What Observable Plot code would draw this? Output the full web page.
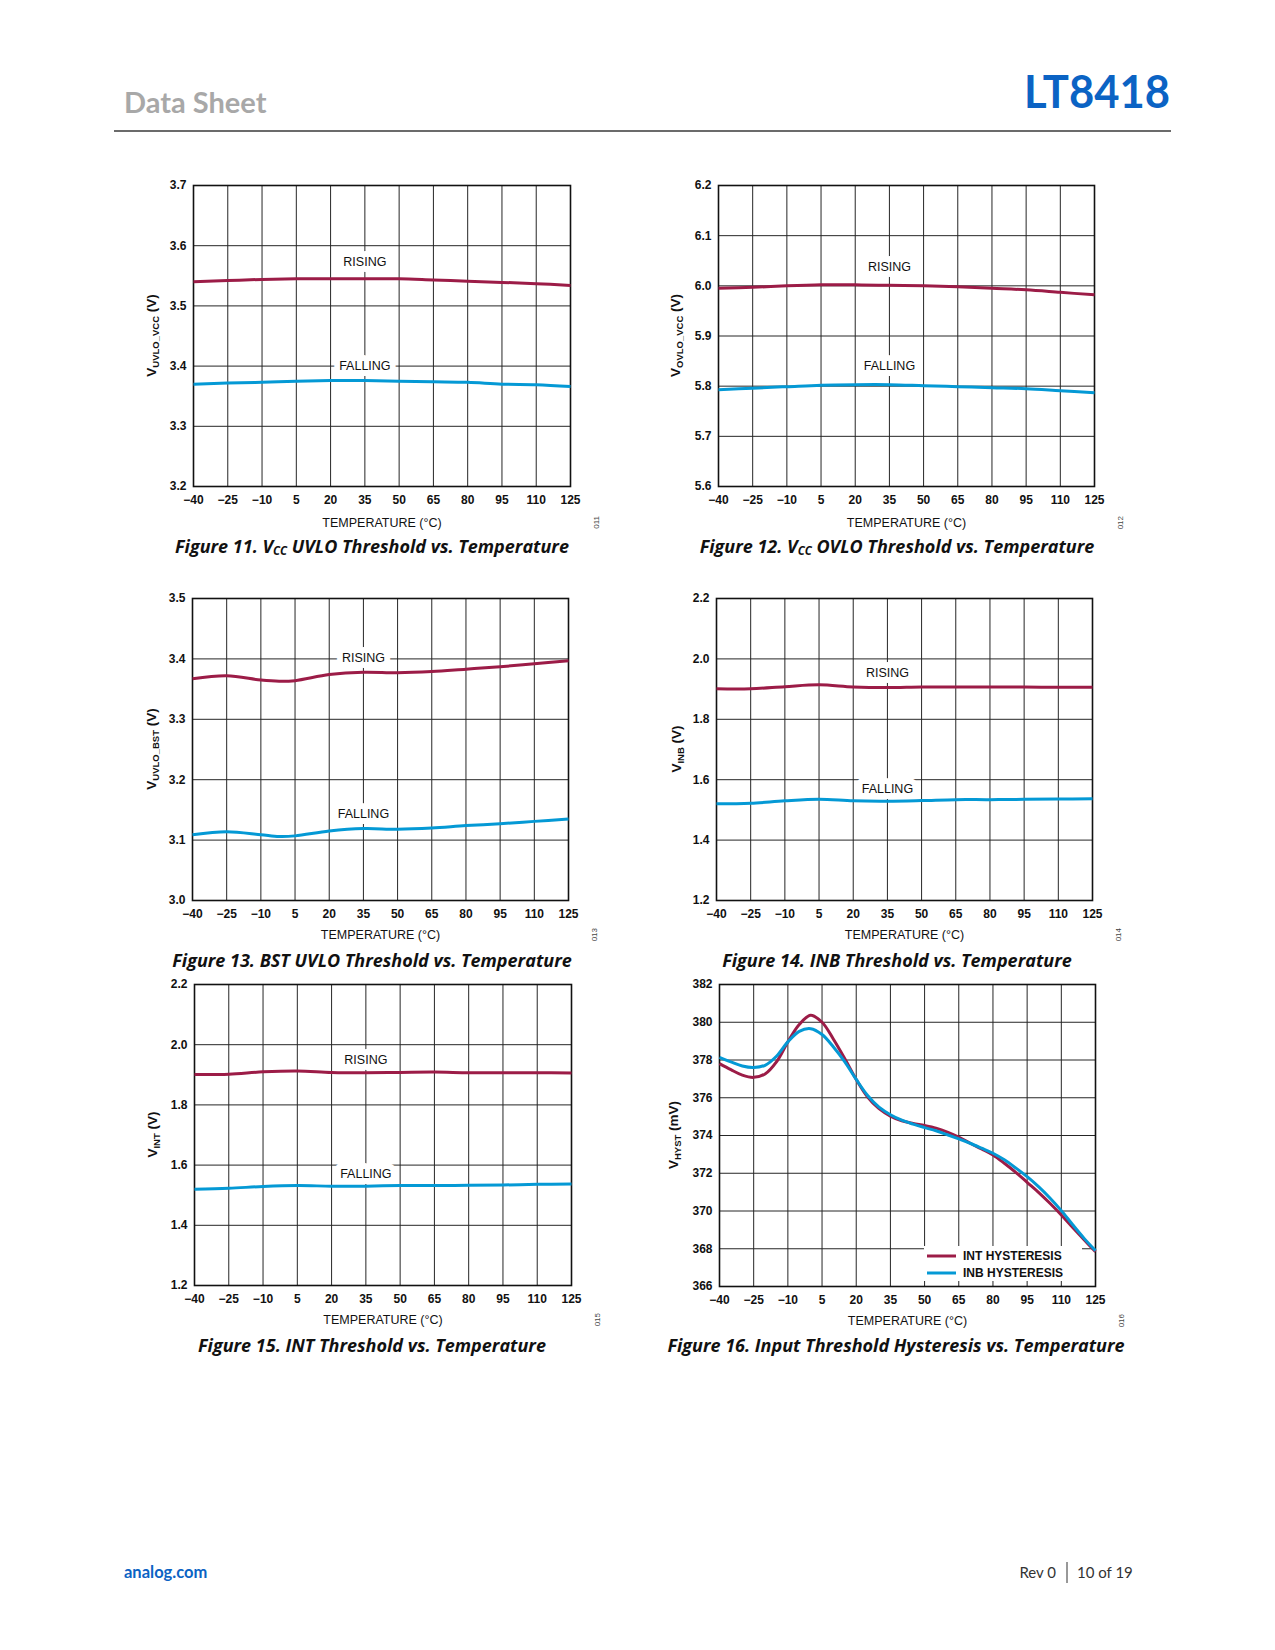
<!DOCTYPE html>
<html><head><meta charset="utf-8">
<script src="https://cdn.jsdelivr.net/npm/d3@7"></script>
<script src="https://cdn.jsdelivr.net/npm/@observablehq/plot@0.6"></script>
<style>
html,body{margin:0;padding:0;background:#fff;}
#page{position:relative;width:1275px;height:1650px;overflow:hidden;background:#fff;}
</style></head><body><div id="page"></div>
<script>
// ---------------- data ----------------
const temps = [-40, -25, -10, 5, 20, 35, 50, 65, 80, 95, 110, 125];
const seriesNames = ["RISING", "FALLING"];
const seriesColors = ["#9c1c47", "#0499d5"];

const fig11Rising  = [3.540, 3.542, 3.544, 3.545, 3.545, 3.545, 3.545, 3.543, 3.541, 3.539, 3.537, 3.534];
const fig11Falling = [3.370, 3.372, 3.373, 3.375, 3.376, 3.376, 3.375, 3.374, 3.373, 3.370, 3.369, 3.366];
const fig11Ticks   = [3.2, 3.3, 3.4, 3.5, 3.6, 3.7];
const fig11LabelY  = [3.573, 3.400];

const fig12Rising  = [5.995, 5.997, 6.000, 6.002, 6.002, 6.001, 6.000, 5.998, 5.995, 5.992, 5.987, 5.982];
const fig12Falling = [5.793, 5.796, 5.799, 5.802, 5.803, 5.803, 5.801, 5.799, 5.797, 5.795, 5.791, 5.787];
const fig12Ticks   = [5.6, 5.7, 5.8, 5.9, 6.0, 6.1, 6.2];
const fig12LabelY  = [6.037, 5.840];

const fig13Temps   = [-40, -25, -10, -2, 5, 20, 35, 50, 65, 80, 95, 110, 125];
const fig13Rising  = [3.367, 3.372, 3.365, 3.363, 3.364, 3.374, 3.378, 3.377, 3.379, 3.383, 3.387, 3.392, 3.397];
const fig13Falling = [3.109, 3.114, 3.109, 3.106, 3.107, 3.115, 3.119, 3.118, 3.120, 3.124, 3.127, 3.131, 3.135];
const fig13Ticks   = [3.0, 3.1, 3.2, 3.3, 3.4, 3.5];
const fig13LabelY  = [3.402, 3.143];

const fig14Rising  = [1.901, 1.901, 1.908, 1.914, 1.907, 1.905, 1.907, 1.907, 1.907, 1.907, 1.906, 1.906];
const fig14Falling = [1.520, 1.522, 1.530, 1.535, 1.530, 1.529, 1.531, 1.534, 1.534, 1.535, 1.536, 1.537];
const fig14Ticks   = [1.2, 1.4, 1.6, 1.8, 2.0, 2.2];
const fig14LabelY  = [1.952, 1.570];

const fig15Rising  = [1.901, 1.902, 1.910, 1.913, 1.908, 1.907, 1.908, 1.909, 1.907, 1.907, 1.907, 1.906];
const fig15Falling = [1.520, 1.523, 1.529, 1.532, 1.530, 1.530, 1.532, 1.532, 1.533, 1.534, 1.536, 1.537];
const fig15Ticks   = [1.2, 1.4, 1.6, 1.8, 2.0, 2.2];
const fig15LabelY  = [1.950, 1.570];

const fig16Names = ["INT HYSTERESIS", "INB HYSTERESIS"];
const fig16Temps = [-40, -35, -30, -25, -20, -15, -10, -5, 0, 5, 10, 15, 20, 25, 30, 35, 40, 45, 50, 55, 60, 65, 70, 75, 80, 85, 90, 95, 100, 105, 110, 115, 120, 125];
const fig16Int = [377.81, 377.49, 377.20, 377.08, 377.26, 377.90, 378.96, 379.88, 380.37, 380.00, 379.10, 378.07, 376.97, 376.04, 375.42, 375.03, 374.78, 374.64, 374.53, 374.39, 374.18, 373.91, 373.59, 373.29, 372.97, 372.53, 372.05, 371.52, 370.99, 370.41, 369.79, 369.13, 368.48, 367.84];
const fig16Inb = [378.14, 377.90, 377.68, 377.60, 377.72, 378.20, 378.96, 379.52, 379.66, 379.35, 378.69, 377.90, 376.97, 376.12, 375.50, 375.10, 374.81, 374.60, 374.42, 374.25, 374.04, 373.82, 373.59, 373.33, 373.06, 372.71, 372.28, 371.82, 371.29, 370.69, 370.02, 369.27, 368.55, 367.90];
const fig16Ticks = [366, 368, 370, 372, 374, 376, 378, 380, 382];

const labelTemp = 35;
const xTitle = "TEMPERATURE (°C)";

// ---------------- page furniture ----------------
const page = d3.select("#page");
const psvg = page.append("svg").attr("width", 1275).attr("height", 1650)
  .style("position", "absolute").style("left", "0px").style("top", "0px");

psvg.append("text").attr("x", 124).attr("y", 113)
  .attr("font-family", "Lato, sans-serif").attr("font-weight", 700).attr("font-size", 29)
  .attr("fill", "#a8a8a8").text("Data Sheet");
psvg.append("text").attr("x", 1024).attr("y", 108)
  .attr("font-family", "Lato, sans-serif").attr("font-weight", 700).attr("font-size", 46)
  .attr("textLength", 146).attr("lengthAdjust", "spacingAndGlyphs")
  .attr("fill", "#0b63c4").text("LT8418");
psvg.append("line").attr("x1", 114).attr("x2", 1171).attr("y1", 131).attr("y2", 131)
  .attr("stroke", "#3a3a3a").attr("stroke-width", 1.5);

psvg.append("text").attr("x", 124).attr("y", 1578)
  .attr("font-family", "Lato, sans-serif").attr("font-weight", 700).attr("font-size", 16.5)
  .attr("fill", "#0b63c4").text("analog.com");
psvg.append("text").attr("x", 1056).attr("y", 1578).attr("text-anchor", "end")
  .attr("font-family", "Lato, sans-serif").attr("font-size", 15).attr("fill", "#333").text("Rev 0");
psvg.append("line").attr("x1", 1067).attr("x2", 1067).attr("y1", 1562).attr("y2", 1583)
  .attr("stroke", "#333").attr("stroke-width", 1);
psvg.append("text").attr("x", 1077).attr("y", 1578)
  .attr("font-family", "Lato, sans-serif").attr("font-size", 15).attr("fill", "#333").text("10 of 19");

function caption(cx, by, parts) {
  const t = psvg.append("text").attr("x", cx).attr("y", by).attr("text-anchor", "middle")
    .attr("font-family", "'Open Sans', sans-serif").attr("font-weight", 700).attr("font-style", "italic")
    .attr("font-size", 18).attr("fill", "#111");
  t.append("tspan").text(parts[0]);
  if (parts.length > 1) {
    t.append("tspan").attr("font-size", 11.5).attr("dy", 2).text(parts[1]);
    t.append("tspan").attr("dy", -2).text(parts[2]);
  }
}
caption(372, 553, ["Figure 11. V", "CC", " UVLO Threshold vs. Temperature"]);
caption(897, 553, ["Figure 12. V", "CC", " OVLO Threshold vs. Temperature"]);
caption(372, 967, ["Figure 13. BST UVLO Threshold vs. Temperature"]);
caption(897, 967, ["Figure 14. INB Threshold vs. Temperature"]);
caption(372, 1352, ["Figure 15. INT Threshold vs. Temperature"]);
caption(896, 1352, ["Figure 16. Input Threshold Hysteresis vs. Temperature"]);

// ---------------- charts ----------------
function drawChart(opts) {
  const {frame, series, yTicks, yFmt, labels, yLabel, yLabelOff, figNo, names, colors, titleDy} = opts;
  const ML = 80, MT = 20, MR = 45, MB = 50;
  const width = frame[1] - frame[0] + ML + MR;
  const height = frame[3] - frame[2] + MT + MB;
  const rows = series.flatMap(s => s.xs.map((t, i) => ({t, v: s.values[i], name: s.name})));
  const marks = [
    Plot.ruleX(temps, {stroke: "#262626", strokeWidth: 1}),
    Plot.ruleY(yTicks, {stroke: "#262626", strokeWidth: 1}),
    Plot.frame({stroke: "#111", strokeWidth: 1.6}),
    Plot.line(rows, {x: "t", y: "v", z: "name", stroke: "name", strokeWidth: 3,
      curve: "catmull-rom", strokeLinecap: "butt"}),
    Plot.text([xTitle], {text: d => d, frameAnchor: "bottom", dy: titleDy,
      fontSize: 12.5, fontWeight: "normal", fill: "#111"}),
    Plot.text([figNo], {text: d => d, frameAnchor: "bottom-right", dx: 28, dy: titleDy - 11, rotate: -90,
      fontSize: 8, fontWeight: "normal", fill: "#444"})
  ];
  if (labels) {
    marks.push(Plot.text(labels, {x: "t", y: "v", text: "label", fontSize: 12.5, fontWeight: "normal",
      fill: "#111", stroke: "white", strokeWidth: 12, paintOrder: "stroke"}));
  }
  const chart = Plot.plot({
    width, height,
    marginLeft: ML, marginTop: MT, marginRight: MR, marginBottom: MB,
    style: {background: "transparent", fontFamily: "'Liberation Sans', Arial, sans-serif",
      fontSize: "12px", fontWeight: "bold", color: "#111", overflow: "visible"},
    x: {domain: [-40, 125], ticks: temps, label: null, tickSize: 0, tickPadding: 9,
      tickFormat: d => d < 0 ? "\u2212" + Math.abs(d) : String(d)},
    y: {domain: [yTicks[0], yTicks[yTicks.length - 1]], ticks: yTicks, label: null,
      tickSize: 0, tickPadding: 7, tickFormat: yFmt},
    color: {domain: names, range: colors},
    marks
  });
  chart.style.position = "absolute";
  chart.style.left = (frame[0] - ML) + "px";
  chart.style.top = (frame[2] - MT) + "px";
  document.getElementById("page").appendChild(chart);

  const svg = d3.select(chart);
  const cy = MT + (frame[3] - frame[2]) / 2;
  const yl = svg.append("text")
    .attr("transform", `translate(${ML - yLabelOff},${cy}) rotate(-90)`)
    .attr("text-anchor", "middle").attr("font-size", 13.5).attr("font-weight", "bold")
    .attr("fill", "#111");
  yl.append("tspan").text("V");
  yl.append("tspan").attr("font-size", 9.5).attr("dy", 3).text(yLabel[0]);
  yl.append("tspan").attr("dy", -3).text(yLabel[1]);
  return {svg, ML, MT, frame};
}

const fmt1 = d => d.toFixed(1);
const mkLabels = ys => seriesNames.map((label, i) => ({label, t: labelTemp, v: ys[i]}));

drawChart({frame: [193, 570, 185, 486], names: seriesNames, colors: seriesColors, titleDy: 40.5,
  series: [{name: "RISING", xs: temps, values: fig11Rising}, {name: "FALLING", xs: temps, values: fig11Falling}],
  yTicks: fig11Ticks, yFmt: fmt1, labels: mkLabels(fig11LabelY), yLabel: ["UVLO_VCC", " (V)"], yLabelOff: 37, figNo: "011"});
drawChart({frame: [718, 1094, 185, 486], names: seriesNames, colors: seriesColors, titleDy: 40.5,
  series: [{name: "RISING", xs: temps, values: fig12Rising}, {name: "FALLING", xs: temps, values: fig12Falling}],
  yTicks: fig12Ticks, yFmt: fmt1, labels: mkLabels(fig12LabelY), yLabel: ["OVLO_VCC", " (V)"], yLabelOff: 38, figNo: "012"});
drawChart({frame: [192, 568, 598, 900], names: seriesNames, colors: seriesColors, titleDy: 38.5,
  series: [{name: "RISING", xs: fig13Temps, values: fig13Rising}, {name: "FALLING", xs: fig13Temps, values: fig13Falling}],
  yTicks: fig13Ticks, yFmt: fmt1, labels: mkLabels(fig13LabelY), yLabel: ["UVLO_BST", " (V)"], yLabelOff: 36, figNo: "013"});
drawChart({frame: [716, 1092, 598, 900], names: seriesNames, colors: seriesColors, titleDy: 38.5,
  series: [{name: "RISING", xs: temps, values: fig14Rising}, {name: "FALLING", xs: temps, values: fig14Falling}],
  yTicks: fig14Ticks, yFmt: fmt1, labels: mkLabels(fig14LabelY), yLabel: ["INB", " (V)"], yLabelOff: 35, figNo: "014"});
drawChart({frame: [194, 571, 984, 1285], names: seriesNames, colors: seriesColors, titleDy: 38.5,
  series: [{name: "RISING", xs: temps, values: fig15Rising}, {name: "FALLING", xs: temps, values: fig15Falling}],
  yTicks: fig15Ticks, yFmt: fmt1, labels: mkLabels(fig15LabelY), yLabel: ["INT", " (V)"], yLabelOff: 37, figNo: "015"});
const c16 = drawChart({frame: [719, 1095, 984, 1286], names: fig16Names, colors: seriesColors, titleDy: 38.5,
  series: [{name: fig16Names[0], xs: fig16Temps, values: fig16Int}, {name: fig16Names[1], xs: fig16Temps, values: fig16Inb}],
  yTicks: fig16Ticks, yFmt: d => String(d), labels: null, yLabel: ["HYST", " (mV)"], yLabelOff: 41, figNo: "016"});

// legend box inside Figure 16 (layout relative to the plot frame)
{
  const {svg, ML, MT, frame} = c16;
  const fw = frame[1] - frame[0], fh = frame[3] - frame[2];
  const bx = ML + 205, by = MT + fh - 40;
  const g = svg.append("g").attr("text-anchor", "start");
  g.append("rect").attr("x", bx).attr("y", by).attr("width", fw - 205 - 13).attr("height", 35)
    .attr("fill", "white").attr("stroke", "none");
  fig16Names.forEach((name, i) => {
    const yy = by + 10 + i * 17;
    g.append("line").attr("x1", bx + 3).attr("x2", bx + 32).attr("y1", yy).attr("y2", yy)
      .attr("stroke", seriesColors[i]).attr("stroke-width", 3);
    g.append("text").attr("x", bx + 39).attr("y", yy).attr("dy", "0.35em").attr("text-anchor", "start")
      .attr("font-size", 12).attr("font-weight", "bold").attr("fill", "#111").text(name);
  });
}
</script></body></html>
